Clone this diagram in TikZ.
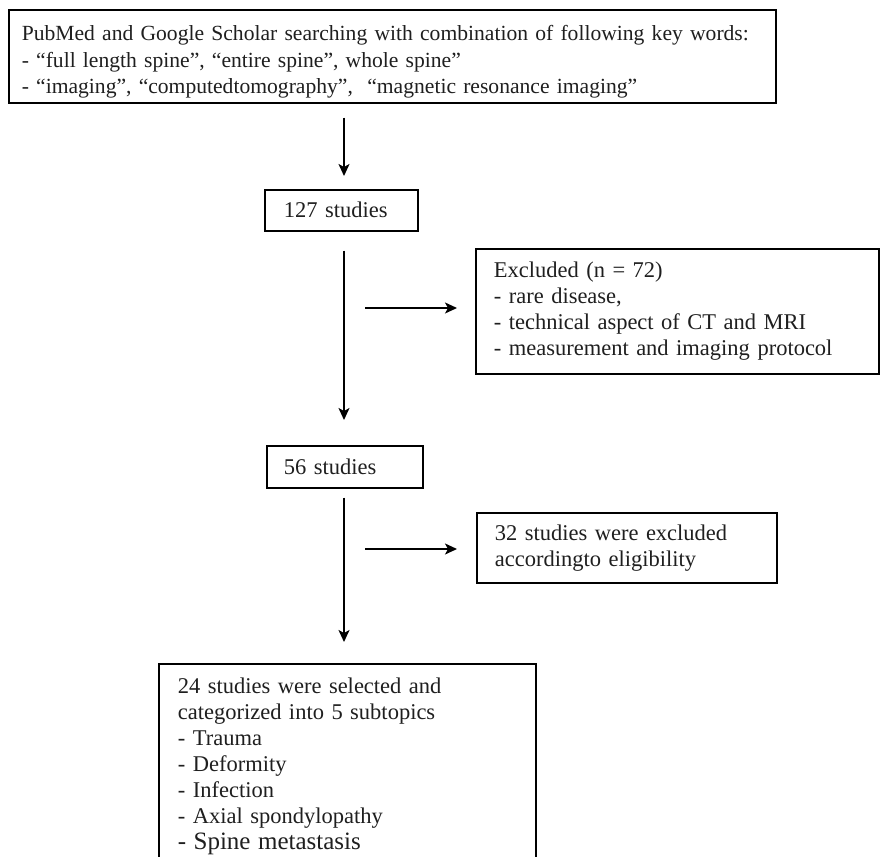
\documentclass[tikz,border=0pt]{standalone}
\usepackage{fontspec}
\setmainfont{Liberation Serif}
\usetikzlibrary{arrows.meta}
\begin{document}
\begin{tikzpicture}[x=1pt,y=-1pt,
  box/.style={draw, line width=1.6pt, anchor=north west, align=left,
    font=\fontsize{22.5}{26}\selectfont, inner ysep=0pt, text=black!88},
  conn/.style={line width=1.5pt, -{Stealth[length=12pt,width=11pt,inset=3pt]}}]
\useasboundingbox (0,0) rectangle (880,856);
\fill[white] (0,0) rectangle (880,856);
\coordinate (spine) at (344,0);
\node[box, font=\fontsize{21.6}{26.5}\selectfont, inner xsep=13pt, text width=741pt, minimum height=93pt] (top) at (8,9)
  {\rule{0pt}{27pt}PubMed and Google Scholar searching with combination of following key words:\\
   - ``full length spine'', ``entire spine'', whole spine''\\
   - ``imaging'', ``computedtomography'',\ \ ``magnetic resonance imaging''};
\node[box, inner xsep=19pt, text width=115pt, minimum height=41pt] (c127) at (264,189) {127 studies};
\node[box, inner xsep=18pt, text width=367pt, minimum height=125pt] (excl) at (475,248)
  {Excluded (n = 72)\\
   - rare disease,\\
   - technical aspect of CT and MRI\\
   - measurement and imaging protocol};
\node[box, inner xsep=17pt, text width=122pt, minimum height=42pt] (c56) at (266,445) {56 studies};
\node[box, inner xsep=18pt, text width=264pt, minimum height=70pt] (c32) at (476,512)
  {32 studies were excluded\\ accordingto eligibility};
\node[box, inner xsep=19pt, inner ysep=14pt, text width=339pt] (sel) at (158,663)
  {24 studies were selected and\\
   categorized into 5 subtopics\\
   - Trauma\\
   - Deformity\\
   - Infection\\
   - Axial spondylopathy\\
   {\fontsize{25}{26}\selectfont - Spine metastasis}};
\draw[conn, shorten <=14pt, shorten >=13pt] (top.south -| spine) -- (c127.north -| spine);
\draw[conn, shorten <=19pt, shorten >=25pt] (c127.south -| spine) -- (c56.north -| spine);
\draw[conn, shorten <=9pt, shorten >=21pt] (c56.south -| spine) -- (sel.north -| spine);
\coordinate (s1) at (365,308);
\coordinate (s2) at (365,549);
\draw[conn, shorten >=18pt] (s1) -- (s1 -| excl.west);
\draw[conn, shorten >=19pt] (s2) -- (s2 -| c32.west);
\end{tikzpicture}
\end{document}
